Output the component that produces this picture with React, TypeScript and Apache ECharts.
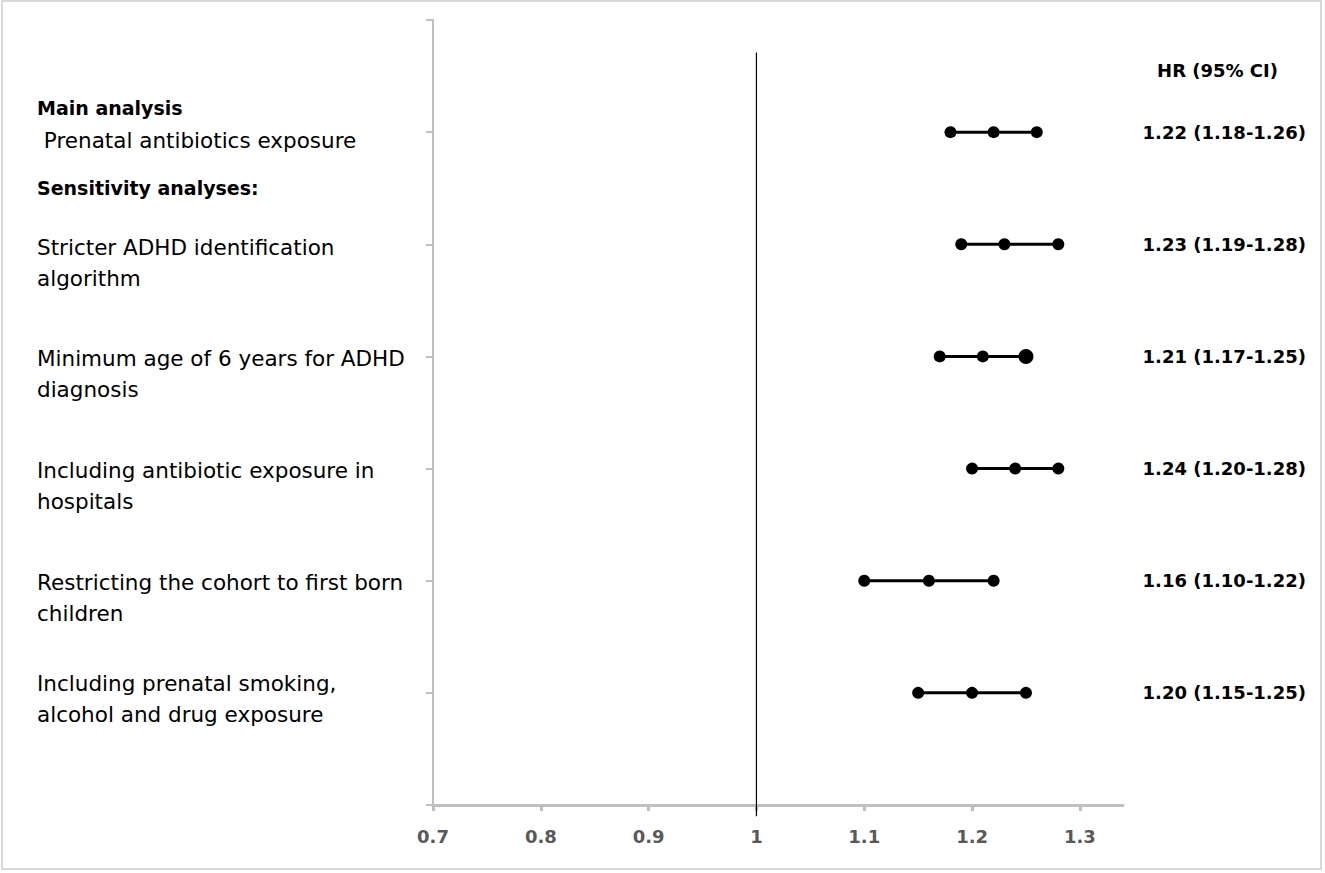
import React, { useEffect, useRef } from "react";
import * as echarts from "echarts";

// ---- data ----
const rowPositions = [6, 5, 4, 3, 2, 1];
const estimates = [1.22, 1.23, 1.21, 1.24, 1.16, 1.2];
const lowers = [1.18, 1.19, 1.17, 1.2, 1.1, 1.15];
const uppers = [1.26, 1.28, 1.25, 1.28, 1.22, 1.25];
const hrLabels = [
  "1.22 (1.18-1.26)",
  "1.23 (1.19-1.28)",
  "1.21 (1.17-1.25)",
  "1.24 (1.20-1.28)",
  "1.16 (1.10-1.22)",
  "1.20 (1.15-1.25)",
];
const headerLabel = "HR (95% CI)";
const xTickValues = [0.7, 0.8, 0.9, 1.0, 1.1, 1.2, 1.3];
const referenceValue = 1;
const leftTexts = [
  "Main analysis",
  " Prenatal antibiotics exposure",
  "Sensitivity analyses:",
  "Stricter ADHD identification\nalgorithm",
  "Minimum age of 6 years for ADHD\ndiagnosis",
  "Including antibiotic exposure in\nhospitals",
  "Restricting the cohort to first born\nchildren",
  "Including prenatal smoking,\nalcohol and drug exposure",
];
const leftTextRows = [6, 6, 6, 5, 4, 3, 2, 1];

// ---- layout (pixels / styles, not data) ----
const FONT = '"DejaVu Sans", Verdana, sans-serif';
const leftLayout = [
  { dy: -24, bold: true, x: 37 },
  { dy: 8, bold: false, x: 37 },
  { dy: 56, bold: true, x: 37 },
  { dy: 3, bold: false, x: 37 },
  { dy: 2, bold: false, x: 37 },
  { dy: 2, bold: false, x: 37 },
  { dy: 2, bold: false, x: 37 },
  { dy: -9, bold: false, x: 37 },
];
const LINE_H = 31;

export default function App() {
  const ref = useRef<HTMLDivElement>(null);

  useEffect(() => {
    document.body.style.margin = "0";
    if (!ref.current) return;
    const chart = echarts.init(ref.current, undefined, { renderer: "svg" });

    const rowSeries = rowPositions.map((y, i) => ({
      type: "line",
      name: "row" + i,
      data: [
        [lowers[i], y],
        [estimates[i], y],
        i === 2 ? { value: [uppers[i], y], symbolSize: 15 } : [uppers[i], y],
      ],
      symbol: "circle",
      symbolSize: 12,
      showSymbol: true,
      itemStyle: { color: "#000" },
      lineStyle: { color: "#000", width: 3 },
      z: 5,
    }));

    const option: any = {
      animation: false,
      backgroundColor: "#fff",
      textStyle: { fontFamily: FONT },
      grid: { left: 433, right: 202, top: 20, bottom: 68, containLabel: false },
      xAxis: {
        type: "value",
        min: 0.7,
        max: 1.34,
        interval: 0.1,
        splitLine: { show: false },
        axisLine: { show: true, lineStyle: { color: "#bfbfbf", width: 3 } },
        axisTick: {
          show: true,
          length: 6,
          customValues: xTickValues,
          lineStyle: { color: "#bfbfbf", width: 3 },
        },
        axisLabel: {
          customValues: xTickValues,
          margin: 22,
          fontSize: 18,
          fontWeight: "bold",
          color: "#595959",
          fontFamily: FONT,
          formatter: (v: number) => String(Math.round(v * 10) / 10),
        },
      },
      yAxis: [
        {
          type: "value",
          min: 0,
          max: 7,
          interval: 1,
          splitLine: { show: false },
          axisLine: { show: true, lineStyle: { color: "#bfbfbf", width: 2 } },
          axisTick: { show: true, length: 7, lineStyle: { color: "#bfbfbf", width: 2 } },
          axisLabel: { show: false },
        },
        {
          type: "value",
          position: "right",
          min: 0,
          max: 7,
          interval: 1,
          splitLine: { show: false },
          axisLine: { show: false },
          axisTick: { show: false },
          axisLabel: {
            show: true,
            align: "right",
            margin: 183,
            fontSize: 18,
            fontWeight: "bold",
            color: "#000",
            fontFamily: FONT,
            formatter: (v: number) => {
              const idx = rowPositions.indexOf(Math.round(v));
              return idx >= 0 ? hrLabels[idx] : "";
            },
          },
        },
      ],
      series: [
        {
          type: "line",
          name: "ref",
          data: [
            [referenceValue, -0.1],
            [referenceValue, 6.71],
          ],
          symbol: "none",
          clip: false,
          lineStyle: { color: "#000", width: 1.2 },
          z: 3,
        },
        ...rowSeries,
      ],
    };
    chart.setOption(option);

    const graphics: any[] = [
      {
        type: "rect",
        id: "border",
        shape: { x: 2, y: 1, width: 1319, height: 868 },
        style: { fill: "none", stroke: "#d9d9d9", lineWidth: 2 },
        z: 0,
        silent: true,
      },
      {
        type: "text",
        id: "header",
        style: {
          text: headerLabel,
          x: 1278,
          y: 70,
          align: "right",
          verticalAlign: "middle",
          fontSize: 18,
          fontWeight: "bold",
          fontFamily: FONT,
          fill: "#000",
        },
      },
    ];
    leftTexts.forEach((t, i) => {
      const rowPx = chart.convertToPixel({ yAxisIndex: 0 }, leftTextRows[i]) as number;
      const lay = leftLayout[i];
      graphics.push({
        type: "text",
        id: "left" + i,
        style: {
          text: t,
          x: lay.x,
          y: rowPx + lay.dy - LINE_H / 2,
          align: "left",
          verticalAlign: "top",
          lineHeight: LINE_H,
          fontSize: lay.bold ? 19 : 21.5,
          fontWeight: lay.bold ? "bold" : "normal",
          fontFamily: FONT,
          fill: "#000",
        },
      });
    });
    chart.setOption({ graphic: graphics });

    return () => chart.dispose();
  }, []);

  return <div ref={ref} style={{ width: 1325, height: 873 }} />;
}
